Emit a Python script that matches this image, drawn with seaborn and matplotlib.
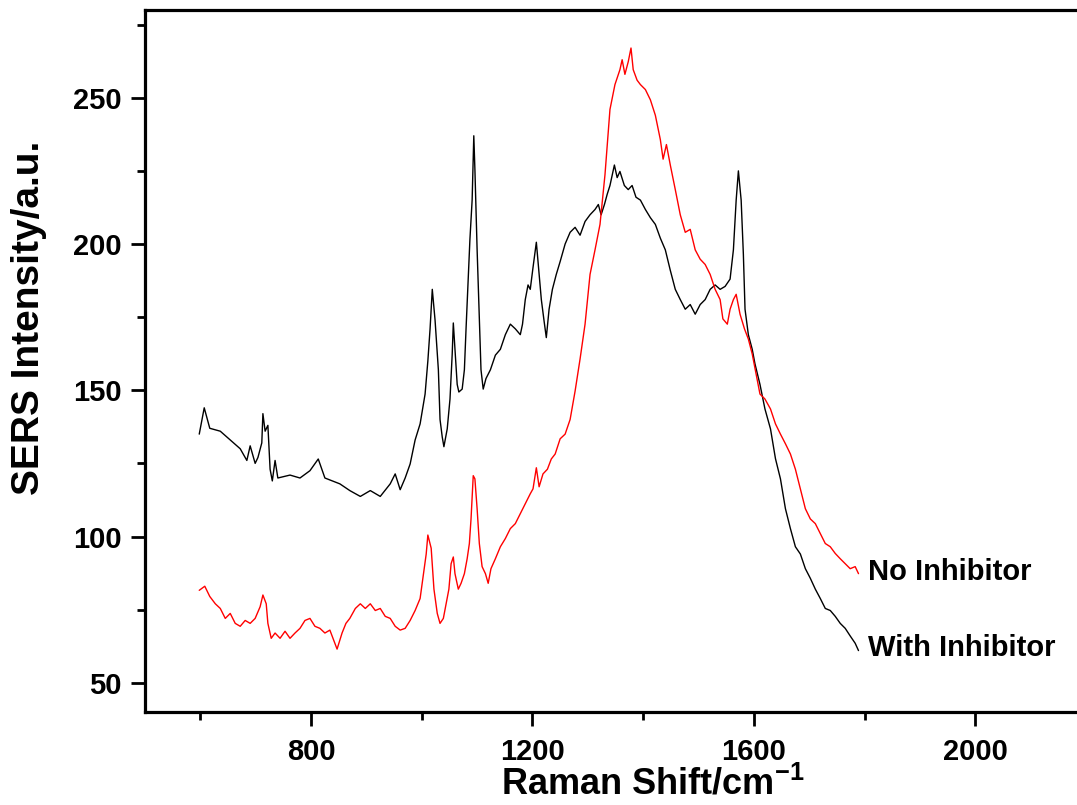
""" SERS spectra with and without inhibitor - recreated chart """

import pandas as pd
import matplotlib
matplotlib.use("Agg")
import matplotlib.pyplot as plt
from matplotlib.ticker import MultipleLocator
import seaborn as sns

# DATA
with_shift = [598, 607, 617, 636, 654, 672, 684, 690, 699, 704, 711, 713, 717, 722, 726, 730,
              735, 740, 762, 780, 798, 813, 825, 852, 870, 889, 907, 925, 943, 952, 961, 970,
              979, 988, 997, 1006, 1011, 1015, 1019, 1024, 1030, 1033, 1037, 1040, 1046, 1051,
              1055, 1057, 1060, 1064, 1067, 1073, 1077, 1080, 1084, 1087, 1091, 1094, 1096,
              1100, 1104, 1107, 1111, 1116, 1124, 1133, 1142, 1151, 1160, 1169, 1178, 1182,
              1187, 1192, 1196, 1201, 1207, 1210, 1216, 1221, 1225, 1230, 1236, 1243, 1250,
              1259, 1268, 1277, 1286, 1295, 1304, 1313, 1319, 1324, 1330, 1335, 1340, 1348,
              1353, 1358, 1366, 1373, 1380, 1387, 1395, 1404, 1413, 1422, 1431, 1440, 1449,
              1458, 1467, 1476, 1485, 1494, 1503, 1512, 1521, 1530, 1539, 1548, 1557, 1563,
              1568, 1572, 1577, 1581, 1584, 1590, 1597, 1602, 1611, 1620, 1630, 1639, 1648,
              1657, 1666, 1675, 1684, 1693, 1702, 1711, 1720, 1729, 1738, 1747, 1756, 1765,
              1774, 1783, 1789]
with_inhibitor = [135, 144, 137, 136, 133, 130, 126, 131, 125, 127, 132, 142, 136, 138, 123, 119,
                  126, 120, 121, 120, 122.5, 126.5, 120, 118, 115.7, 113.7, 115.7, 113.7, 118,
                  121.4, 116, 120, 124.8, 133, 138.5, 148.7, 160, 171, 184.5, 174, 157, 140, 134,
                  130.7, 136.8, 147, 162.4, 173, 164, 152, 149.4, 150.4, 157, 171, 188, 201.6,
                  215, 237, 225.5, 198, 174, 157, 150.4, 154, 157, 162, 164, 169, 172.6, 171, 169,
                  172.6, 181, 186, 184.5, 192, 200.6, 194, 181, 173.6, 168, 177.7, 184.5, 189.6,
                  194, 200, 204, 205.7, 203, 207.7, 210, 211.8, 213.5, 210, 213.5, 217, 220, 227,
                  222.7, 224.8, 220, 218.6, 220, 216, 215, 211.8, 209, 206.7, 202, 198, 191,
                  184.5, 181, 177.7, 179.3, 176, 179.3, 181, 184.5, 186, 184.5, 185.5, 188, 198,
                  215, 225, 215, 196.5, 177.7, 169, 164, 159, 152, 143.6, 136.8, 126.6, 119.7,
                  109.5, 102.7, 96.5, 94, 89, 85.7, 82, 78.8, 75.4, 74.7, 72.7, 70.3, 68.6, 66,
                  63.5, 61]

no_shift = [598, 608, 617, 627, 636, 645, 654, 663, 672, 681, 690, 699, 708, 713, 719, 722, 728,
            735, 744, 753, 762, 771, 780, 789, 798, 807, 816, 825, 834, 843, 847, 856, 863, 870,
            880, 889, 898, 907, 916, 925, 934, 943, 952, 961, 970, 979, 988, 997, 1002, 1008,
            1011, 1017, 1022, 1028, 1033, 1039, 1044, 1049, 1053, 1057, 1060, 1066, 1071, 1077,
            1082, 1086, 1089, 1093, 1096, 1100, 1104, 1109, 1115, 1120, 1125, 1133, 1142, 1151,
            1160, 1169, 1178, 1187, 1196, 1201, 1207, 1212, 1219, 1227, 1234, 1241, 1250, 1259,
            1268, 1277, 1286, 1295, 1304, 1313, 1322, 1331, 1340, 1349, 1358, 1362, 1367, 1373,
            1378, 1382, 1389, 1395, 1404, 1413, 1422, 1431, 1436, 1442, 1449, 1458, 1467, 1476,
            1485, 1494, 1503, 1512, 1521, 1530, 1539, 1544, 1552, 1557, 1563, 1568, 1575, 1583,
            1590, 1597, 1604, 1611, 1620, 1630, 1639, 1648, 1657, 1666, 1675, 1684, 1693, 1702,
            1711, 1720, 1729, 1738, 1747, 1756, 1765, 1774, 1783, 1789]
no_inhibitor = [81.6, 83, 79.5, 77, 75.4, 72, 73.7, 70.3, 69.3, 71.3, 70.3, 72, 76, 80, 77, 70.3,
                65.2, 67, 65.2, 67.6, 65.2, 67, 68.6, 71.3, 72, 69.3, 68.6, 67, 68, 63.5, 61.5,
                67, 70.3, 72, 75.4, 77, 75.4, 77, 74.7, 75.4, 72.7, 72, 69.3, 68, 68.6, 71.3,
                74.7, 78.8, 85.6, 94, 100.5, 96, 82, 73.7, 70.3, 72, 77, 82, 90.7, 93, 87.3, 82,
                84, 87.3, 92.4, 97.6, 106, 120.8, 119.7, 109.5, 97.6, 89.7, 87.3, 84, 89, 92.4,
                96.5, 99.3, 102.7, 104.4, 107.8, 111.2, 114.6, 116.3, 123.5, 117, 121.4, 123,
                126.5, 128.2, 133.4, 135, 140, 149.7, 160.7, 172.6, 189.6, 198, 206.7, 223.7, 246,
                254.5, 259.6, 263, 258, 262.3, 267, 259.6, 256, 254.5, 252.8, 249.3, 244, 235.7,
                229, 234, 227, 218.6, 210, 204, 205, 198, 194.8, 193, 189.6, 184.5, 181, 174.4,
                172.6, 177.7, 181, 182.8, 176, 171, 167.5, 162.4, 155.5, 148.7, 147, 143.6,
                138.5, 135, 131.7, 128.2, 123, 116.3, 109.5, 106, 104.4, 101, 97.6, 96.5, 94.2,
                92.4, 90.7, 89, 89.7, 87.3]

series_names = ["With Inhibitor", "No Inhibitor"]
series_colors = ["black", "red"]

x_label = "Raman Shift/cm$^{\\mathregular{-1}}$"
y_label = "SERS Intensity/a.u."


def main():
    sns.set_style("ticks")
    plt.rcParams["font.family"] = ["Liberation Sans", "DejaVu Sans"]
    plt.rcParams["axes.unicode_minus"] = False

    fig = plt.figure(figsize=(10.77, 8.05), dpi=100)
    # axes run slightly past the right edge like the cropped original
    ax = fig.add_axes([145 / 1077, 93 / 805, 941 / 1077, 702 / 805])

    df_with = pd.DataFrame({"shift": with_shift, "intensity": with_inhibitor})
    df_no = pd.DataFrame({"shift": no_shift, "intensity": no_inhibitor})

    sns.lineplot(data=df_with, x="shift", y="intensity", ax=ax,
                 color=series_colors[0], linewidth=1.0, sort=False)
    sns.lineplot(data=df_no, x="shift", y="intensity", ax=ax,
                 color=series_colors[1], linewidth=1.0, sort=False)

    ax.set_xlim(500, 2200)
    ax.set_ylim(40, 280)
    ax.xaxis.set_major_locator(MultipleLocator(400))
    ax.xaxis.set_minor_locator(MultipleLocator(200))
    ax.yaxis.set_major_locator(MultipleLocator(50))
    ax.yaxis.set_minor_locator(MultipleLocator(25))

    for side in ["left", "bottom", "top", "right"]:
        ax.spines[side].set_linewidth(2.3)
        ax.spines[side].set_color("black")
    ax.tick_params(which="major", direction="out", length=10, width=2,
                   labelsize=21, colors="black", top=False, right=False)
    ax.tick_params(axis="x", which="major", pad=9)
    ax.tick_params(axis="y", which="major", pad=7)
    ax.tick_params(which="minor", direction="out", length=6, width=2,
                   colors="black", top=False, right=False)
    for lbl in ax.get_xticklabels() + ax.get_yticklabels():
        lbl.set_fontweight("bold")

    ax.set_xlabel(x_label, fontsize=26, fontweight="bold", color="black")
    ax.set_ylabel(y_label, fontsize=28, fontweight="bold", color="black")
    ax.xaxis.set_label_coords(0.54, -0.078)
    ax.yaxis.set_label_coords(-0.104, 0.561)

    # end labels next to the curves
    ax.text(1807, 88, series_names[1], fontsize=21, fontweight="bold",
            va="center", ha="left", color="black")
    ax.text(1807, 62, series_names[0], fontsize=21, fontweight="bold",
            va="center", ha="left", color="black")

    fig.savefig("out.png", dpi=100)
    plt.close(fig)


if __name__ == "__main__":
    main()
